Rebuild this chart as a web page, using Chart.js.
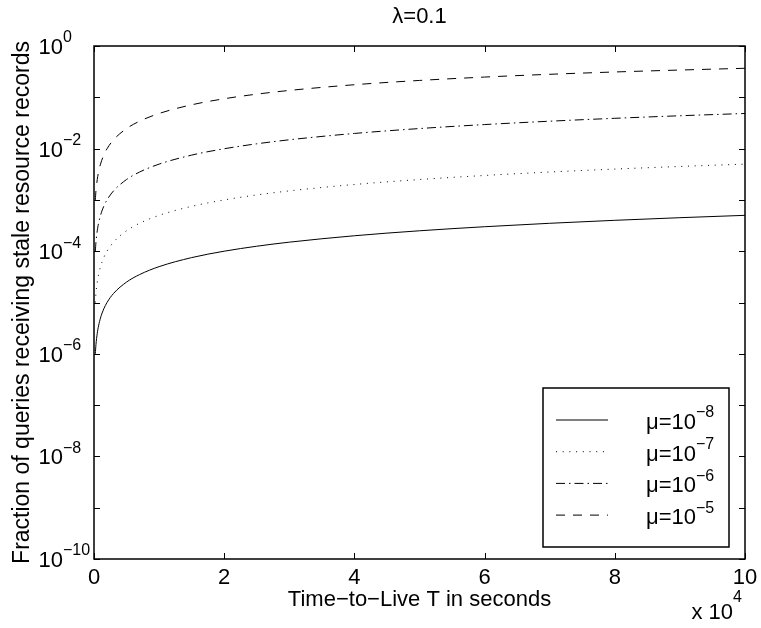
<!DOCTYPE html>
<html>
<head>
<meta charset="utf-8">
<script src="https://cdn.jsdelivr.net/npm/chart.js@4/dist/chart.umd.min.js"></script>
<style>
  body { margin: 0; background: #fff; }
  canvas { display: block; }
</style>
</head>
<body>
<canvas id="chart" width="761" height="628"></canvas>
<script>
// Time-to-live samples in seconds (x axis shown in units of 10^4)
const tSeconds = [200, 300, 500, 700, 1000, 1500, 2000, 3000, 5000, 7000, 10000, 15000,
  20000, 25000, 30000, 40000, 50000, 60000, 70000, 80000, 90000, 100000];

// Fraction of stale answers, one list per mu
const mu8 = [1e-6, 1.5e-6, 2.5e-6, 3.5e-6, 5e-6, 7.5e-6, 1e-5, 1.5e-5, 2.5e-5, 3.5e-5, 5e-5, 7.5e-5,
  1e-4, 1.25e-4, 1.5e-4, 2e-4, 2.5e-4, 3e-4, 3.5e-4, 4e-4, 4.5e-4, 5e-4];
const mu7 = [1e-5, 1.5e-5, 2.5e-5, 3.5e-5, 5e-5, 7.5e-5, 1e-4, 1.5e-4, 2.5e-4, 3.5e-4, 5e-4, 7.49e-4,
  9.99e-4, 1.249e-3, 1.499e-3, 1.997e-3, 2.496e-3, 2.994e-3, 3.492e-3, 3.989e-3, 4.487e-3, 4.983e-3];
const mu6 = [1e-4, 1.5e-4, 2.5e-4, 3.5e-4, 5e-4, 7.5e-4, 9.99e-4, 1.498e-3, 2.496e-3, 3.492e-3, 4.983e-3, 7.463e-3,
  9.934e-3, 0.0124, 0.01485, 0.01974, 0.02459, 0.02941, 0.0342, 0.03895, 0.04368, 0.04837];
const mu5 = [9.99e-4, 1.498e-3, 2.496e-3, 3.492e-3, 4.983e-3, 7.463e-3, 9.934e-3, 0.01485, 0.02459, 0.0342, 0.04837, 0.0714,
  0.0937, 0.1152, 0.1361, 0.1758, 0.2131, 0.248, 0.2808, 0.3117, 0.34, 0.3679];

const seriesExps = ["\u22128", "\u22127", "\u22126", "\u22125"];

// Axis ticks
const xTicks = [0, 2, 4, 6, 8, 10];           // x 10^4 seconds
const yTickExps = [0, -1, -2, -3, -4, -5, -6, -7, -8, -9, -10];
const yLabelExps = [0, -2, -4, -6, -8, -10];

const FONT = "Liberation Sans, Arial, Helvetica, sans-serif";
const BASE = 22, SUP = 16;

function toPoints(vals) {
  return vals.map((v, i) => ({ x: tSeconds[i], y: v }));
}

function expText(e) {
  return e < 0 ? "\u2212" + Math.abs(e) : String(e);
}

// draws "10" with a raised exponent; x = junction between base and exponent
function drawPow(ctx, x, y, exp) {
  ctx.textBaseline = "middle";
  ctx.font = BASE + "px " + FONT;
  ctx.textAlign = "right";
  ctx.fillText("10", x, y);
  ctx.font = SUP + "px " + FONT;
  ctx.textAlign = "left";
  ctx.fillText(exp, x, y - 10);
}

const matlabFrame = {
  id: "matlabFrame",
  afterDraw(chart) {
    const ctx = chart.ctx;
    const a = chart.chartArea;
    const xs = chart.scales.x, ys = chart.scales.y;
    ctx.save();
    ctx.strokeStyle = "#000";
    ctx.fillStyle = "#000";
    ctx.lineWidth = 1.5;
    ctx.setLineDash([]);
    ctx.strokeRect(a.left, a.top, a.right - a.left, a.bottom - a.top);

    // inward ticks
    ctx.lineWidth = 1;
    ctx.beginPath();
    xTicks.forEach(t => {
      const px = Math.round(xs.getPixelForValue(t * 1e4)) + 0.5;
      ctx.moveTo(px, a.bottom); ctx.lineTo(px, a.bottom - 6);
      ctx.moveTo(px, a.top); ctx.lineTo(px, a.top + 6);
    });
    yTickExps.forEach(e => {
      const py = Math.round(ys.getPixelForValue(Math.pow(10, e))) + 0.5;
      ctx.moveTo(a.left, py); ctx.lineTo(a.left + 6, py);
      ctx.moveTo(a.right, py); ctx.lineTo(a.right - 6, py);
    });
    ctx.stroke();

    // x tick labels
    ctx.font = BASE + "px " + FONT;
    ctx.textAlign = "center";
    ctx.textBaseline = "middle";
    xTicks.forEach(t => ctx.fillText(String(t), xs.getPixelForValue(t * 1e4), a.bottom + 19));

    // y tick labels
    yLabelExps.forEach(e => {
      const py = ys.getPixelForValue(Math.pow(10, e));
      drawPow(ctx, 63, py + 2, expText(e));
    });

    // title and axis titles
    ctx.font = BASE + "px " + FONT;
    ctx.textAlign = "center";
    ctx.textBaseline = "middle";
    const cx = (a.left + a.right) / 2;
    ctx.fillText("\u03bb=0.1", cx, 17);
    ctx.fillText("Time\u2212to\u2212Live T in seconds", cx, 600);
    ctx.save();
    ctx.font = "23px " + FONT;
    ctx.translate(23, (a.top + a.bottom) / 2);
    ctx.rotate(-Math.PI / 2);
    ctx.fillText("Fraction of queries receiving stale resource records", 0, 0);
    ctx.restore();

    // x 10^4 multiplier
    ctx.font = BASE + "px " + FONT;
    ctx.textAlign = "right";
    ctx.fillText("x 10", 733, 613);
    ctx.font = SUP + "px " + FONT;
    ctx.textAlign = "left";
    ctx.fillText("4", 733, 598);

    // legend box
    const lx = 543, ly = 388, lw = 186, lh = 159;
    ctx.fillStyle = "#fff";
    ctx.fillRect(lx, ly, lw, lh);
    ctx.lineWidth = 1.5;
    ctx.strokeRect(lx, ly, lw, lh);
    chart.data.datasets.forEach((ds, i) => {
      const ry = 420 + i * 31.7;
      ctx.strokeStyle = ds.borderColor;
      ctx.lineWidth = ds.borderWidth;
      ctx.setLineDash(ds.borderDash);
      ctx.beginPath();
      ctx.moveTo(556, ry);
      ctx.lineTo(608, ry);
      ctx.stroke();
      ctx.setLineDash([]);
      ctx.fillStyle = "#000";
      ctx.font = BASE + "px " + FONT;
      ctx.textAlign = "right";
      ctx.textBaseline = "middle";
      ctx.fillText("\u03bc=10", 696, ry + 3);
      ctx.font = SUP + "px " + FONT;
      ctx.textAlign = "left";
      ctx.fillText(seriesExps[i], 696, ry - 7);
    });
    ctx.restore();
  }
};

function lineSet(label, vals, dash) {
  return {
    label: label,
    data: toPoints(vals),
    borderColor: "#000",
    borderWidth: 1,
    borderDash: dash,
    pointRadius: 0,
    fill: false,
    cubicInterpolationMode: "monotone"
  };
}

window.onload = () => {
  const ctx = document.getElementById("chart").getContext("2d");
  new Chart(ctx, {
    type: "line",
    data: {
      datasets: [
        lineSet("mu=1e-8", mu8, []),
        lineSet("mu=1e-7", mu7, [1, 5.7]),
        lineSet("mu=1e-6", mu6, [9, 4, 1.5, 4]),
        lineSet("mu=1e-5", mu5, [9, 8])
      ]
    },
    options: {
      responsive: false,
      animation: false,
      layout: { padding: { left: 94, right: 16, top: 46, bottom: 69 } },
      plugins: {
        legend: { display: false },
        title: { display: false },
        tooltip: { enabled: false }
      },
      scales: {
        x: { type: "linear", min: 0, max: 100000, display: false },
        y: { type: "logarithmic", min: 1e-10, max: 1, display: false }
      }
    },
    plugins: [matlabFrame]
  });
};
</script>
</body>
</html>
